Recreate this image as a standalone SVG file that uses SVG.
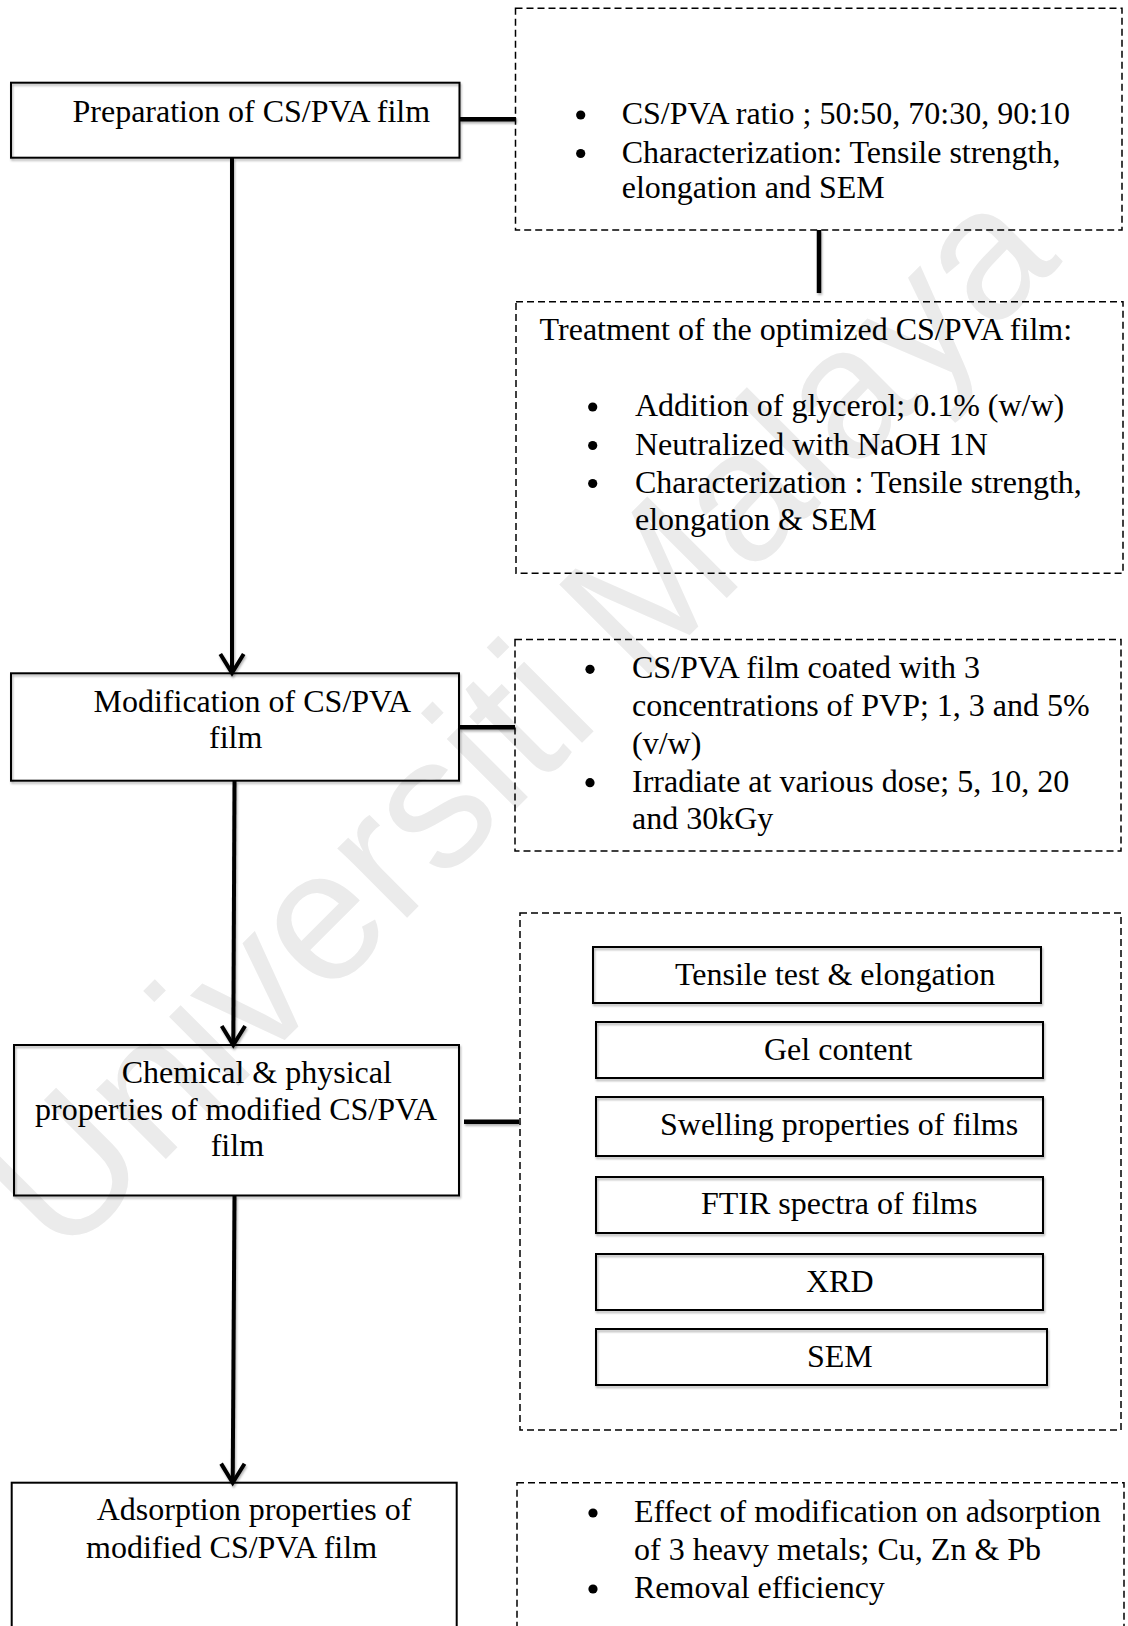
<svg xmlns="http://www.w3.org/2000/svg" width="1128" height="1626" viewBox="0 0 1128 1626">
<defs>
<style>
.t{font-family:"Liberation Serif","Times New Roman",serif;font-size:32px;fill:#000}
.u{fill:#000}
.b{fill:none;stroke:#000;stroke-width:2}
.d{fill:none;stroke:#000;stroke-width:1.5;stroke-dasharray:7 4}
.c{stroke:#000;stroke-width:4.5;fill:none}
.a{stroke:#000;stroke-width:4;fill:none}
.wm{font-family:"Liberation Sans",Arial,sans-serif;font-size:186px;fill:#ebebeb}
</style>
<filter id="sh" x="-10%" y="-10%" width="120%" height="130%">
<feDropShadow dx="1" dy="2" stdDeviation="1.2" flood-color="#000" flood-opacity="0.3"/>
</filter>
<marker id="arr" markerUnits="userSpaceOnUse" markerWidth="1" markerHeight="1" orient="auto" refX="0" refY="0" overflow="visible">
<path d="M -19 -11.7 L 0 0 L -19 11.7" fill="none" stroke="#000" stroke-width="4" stroke-linejoin="miter"/>
</marker>
</defs>
<rect x="0" y="0" width="1128" height="1626" fill="#fff"/>
<text class="wm" x="515" y="782" text-anchor="middle" transform="rotate(-45 515 715)">Universiti Malaya</text>

<g id="connectors" filter="url(#sh)">
<line class="a" x1="232" y1="158" x2="232" y2="673" marker-end="url(#arr)"/>
<line class="a" x1="234.5" y1="781" x2="233.3" y2="1045" marker-end="url(#arr)"/>
<line class="a" x1="234.5" y1="1196" x2="232.7" y2="1482.7" marker-end="url(#arr)"/>
<line class="c" x1="460" y1="119.3" x2="516" y2="119.3"/>
<line class="c" x1="459" y1="727.3" x2="515" y2="727.3"/>
<line class="c" x1="464" y1="1121.7" x2="519" y2="1121.7"/>
<line class="c" x1="819" y1="230" x2="819" y2="293" stroke-width="5"/>
</g>

<g id="n1">
<rect class="b" x="11" y="82.7" width="448.5" height="75" filter="url(#sh)"/>
<text class="t" x="72.5" y="121.5">Preparation of CS/PVA film</text>
</g>

<g id="d1">
<rect class="d" x="515.5" y="8.3" width="606.5" height="221.7"/>
<circle class="u" cx="580.7" cy="115" r="4.6"/>
<text class="t" x="621.7" y="124">CS/PVA ratio ; 50:50, 70:30, 90:10</text>
<circle class="u" cx="580.7" cy="153.5" r="4.6"/>
<text class="t" x="621.7" y="162.7">Characterization: Tensile strength,</text>
<text class="t" x="621.7" y="198">elongation and SEM</text>
</g>

<g id="d2">
<rect class="d" x="516" y="301.7" width="607" height="271.6"/>
<text class="t" x="539.6" y="340">Treatment of the optimized CS/PVA film:</text>
<circle class="u" cx="592.7" cy="407" r="4.6"/>
<text class="t" x="635" y="416">Addition of glycerol; 0.1% (w/w)</text>
<circle class="u" cx="592.7" cy="445.5" r="4.6"/>
<text class="t" x="635" y="454.5">Neutralized with NaOH 1N</text>
<circle class="u" cx="592.7" cy="483.5" r="4.6"/>
<text class="t" x="635" y="492.5">Characterization : Tensile strength,</text>
<text class="t" x="635" y="529.5">elongation &amp; SEM</text>
</g>

<g id="n2">
<rect class="b" x="11" y="673.3" width="448" height="107.4" filter="url(#sh)"/>
<text class="t" x="93.5" y="711.7">Modification of CS/PVA</text>
<text class="t" x="209" y="747.7">film</text>
</g>

<g id="d3">
<rect class="d" x="515" y="639.5" width="606" height="211.5"/>
<circle class="u" cx="590" cy="669.3" r="4.6"/>
<text class="t" x="632" y="678.3">CS/PVA film coated with 3</text>
<text class="t" x="632" y="716">concentrations of PVP; 1, 3 and 5%</text>
<text class="t" x="632" y="754">(v/w)</text>
<circle class="u" cx="590" cy="782.7" r="4.6"/>
<text class="t" x="632" y="791.7">Irradiate at various dose; 5, 10, 20</text>
<text class="t" x="632" y="829.3">and 30kGy</text>
</g>

<g id="n3">
<rect class="b" x="14" y="1045" width="445" height="150.5" filter="url(#sh)"/>
<text class="t" x="121.7" y="1083.3">Chemical &amp; physical</text>
<text class="t" x="35" y="1120">properties of modified CS/PVA</text>
<text class="t" x="210.7" y="1155.5">film</text>
</g>

<g id="d4">
<rect class="d" x="520" y="913" width="601" height="517"/>
<g id="p1"><rect class="b" x="593" y="947" width="448" height="56" filter="url(#sh)"/><text class="t" x="675" y="985">Tensile test &amp; elongation</text></g>
<g id="p2"><rect class="b" x="596" y="1022" width="447" height="56" filter="url(#sh)"/><text class="t" x="764" y="1059.5">Gel content</text></g>
<g id="p3"><rect class="b" x="596" y="1097" width="447" height="59" filter="url(#sh)"/><text class="t" x="660" y="1135">Swelling properties of films</text></g>
<g id="p4"><rect class="b" x="596" y="1177" width="447" height="56" filter="url(#sh)"/><text class="t" x="701" y="1214">FTIR spectra of films</text></g>
<g id="p5"><rect class="b" x="596" y="1254" width="447" height="56" filter="url(#sh)"/><text class="t" x="806" y="1291.7">XRD</text></g>
<g id="p6"><rect class="b" x="596" y="1329" width="451" height="56" filter="url(#sh)"/><text class="t" x="807" y="1366.7">SEM</text></g>
</g>

<g id="n4">
<rect class="b" x="11.7" y="1482.7" width="445" height="170"/>
<text class="t" x="96.7" y="1520">Adsorption properties of</text>
<text class="t" x="86" y="1558.3">modified CS/PVA film</text>
</g>

<g id="d5">
<rect class="d" x="517" y="1482.7" width="607" height="170"/>
<circle class="u" cx="593" cy="1513" r="4.6"/>
<text class="t" x="634" y="1522">Effect of modification on adsorption</text>
<text class="t" x="634" y="1560">of 3 heavy metals; Cu, Zn &amp; Pb</text>
<circle class="u" cx="593" cy="1589" r="4.6"/>
<text class="t" x="634" y="1598">Removal efficiency</text>
</g>
</svg>
